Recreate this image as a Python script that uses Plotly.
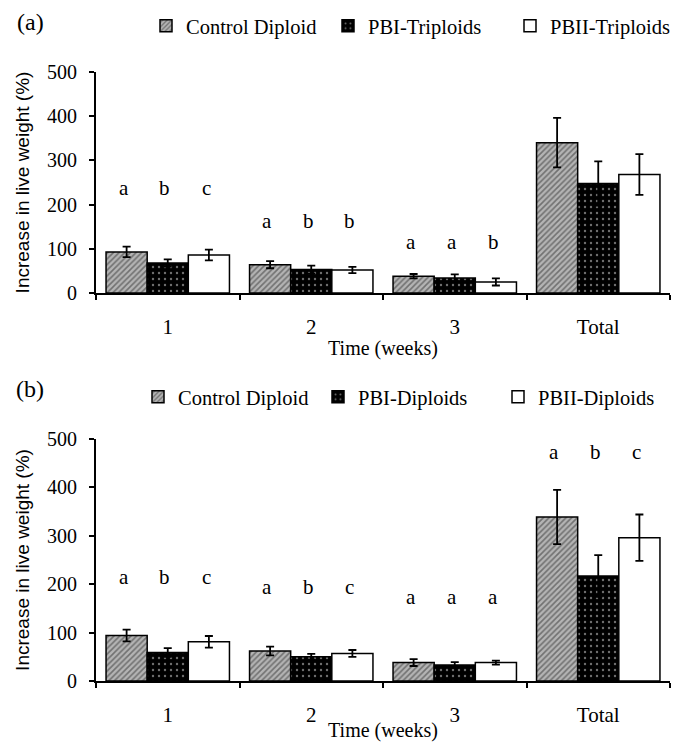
import plotly.graph_objects as go

categories = ["1", "2", "3", "Total"]

# Panel (a)
a_names = ["Control Diploid", "PBI-Triploids", "PBII-Triploids"]
a_control = [93, 64, 38, 340]
a_control_err = [12, 8, 5, 56]
a_pbi = [68, 53, 34, 248]
a_pbi_err = [8, 9, 8, 50]
a_pbii = [86, 52, 25, 268]
a_pbii_err = [12, 7, 8, 46]
a_letters = [["a", "b", "c"], ["a", "b", "b"], ["a", "a", "b"], ["a", "b", "c"]]
a_letter_y = [237, 164, 116, 504]

# Panel (b)
b_names = ["Control Diploid", "PBI-Diploids", "PBII-Diploids"]
b_control = [94, 62, 38, 339]
b_control_err = [12, 9, 7, 56]
b_pbi = [59, 50, 33, 217]
b_pbi_err = [9, 6, 6, 43]
b_pbii = [81, 57, 38, 296]
b_pbii_err = [12, 7, 4, 48]
b_letters = [["a", "b", "c"], ["a", "b", "c"], ["a", "a", "a"], ["a", "b", "c"]]
b_letter_y = [215, 194, 174, 473]

y_ticks = [0, 100, 200, 300, 400, 500]

# page has an 8px body margin; size the figure so it fills the 680x742 window
OFF = 8
W, H = 680 - OFF, 742 - OFF
SERIF = "Liberation Serif"
SANS = "Liberation Sans"
BARGAP = 0.14


def px(x):
    return (x - OFF) / W


def py(y):
    return 1 - (y - OFF) / H


styles = [
    dict(color="#b4b4b4", line=dict(color="black", width=1.5),
         pattern=dict(shape="/", fgcolor="#2e2e2e", bgcolor="#b4b4b4", size=4, solidity=0.4)),
    dict(color="black", line=dict(color="black", width=1.5),
         pattern=dict(shape=".", fgcolor="#dddddd", bgcolor="black", size=6, solidity=0.12)),
    dict(color="white", line=dict(color="black", width=1.5)),
]

fig = go.Figure()


def add_panel(names, vals, errs, xa, ya, legend):
    for i, (n, v, e) in enumerate(zip(names, vals, errs)):
        fig.add_trace(go.Bar(
            x=categories, y=v, name=n, marker=styles[i],
            error_y=dict(type="data", array=e, visible=True, color="black", thickness=1.8, width=4),
            xaxis=xa, yaxis=ya, legend=legend,
        ))


add_panel(a_names, [a_control, a_pbi, a_pbii], [a_control_err, a_pbi_err, a_pbii_err], "x", "y", "legend")
add_panel(b_names, [b_control, b_pbi, b_pbii], [b_control_err, b_pbi_err, b_pbii_err], "x2", "y2", "legend2")

bw = (1 - BARGAP) / 3
annotations = []
for letters, ly, xr, yr in [(a_letters, a_letter_y, "x", "y"), (b_letters, b_letter_y, "x2", "y2")]:
    for ci, group in enumerate(letters):
        for j, L in enumerate(group):
            annotations.append(dict(x=ci + (j - 1) * bw - 0.02, y=ly[ci], xref=xr, yref=yr, text=L,
                                    showarrow=False, xanchor="center", yanchor="middle",
                                    font=dict(family=SERIF, size=21, color="black")))

annotations.append(dict(x=px(30), y=py(22), xref="paper", yref="paper", text="(a)", showarrow=False,
                        xanchor="center", yanchor="middle", font=dict(family=SERIF, size=24, color="black")))
annotations.append(dict(x=px(30), y=py(389), xref="paper", yref="paper", text="(b)", showarrow=False,
                        xanchor="center", yanchor="middle", font=dict(family=SERIF, size=24, color="black")))

xdom = [px(96), px(670)]
xaxis_common = dict(type="category", range=[-0.5, 3.5], showline=True, linecolor="black", linewidth=2,
                    ticks="outside", tickson="boundaries", ticklen=5, tickwidth=2, tickcolor="black",
                    showgrid=False, zeroline=False, ticklabelstandoff=14, automargin=False,
                    tickfont=dict(family=SERIF, size=21, color="black"),
                    title=dict(text="Time (weeks)", font=dict(family=SERIF, size=20, color="black"), standoff=3),
                    domain=xdom)
yaxis_common = dict(range=[0, 500], tickvals=y_ticks, showline=True, linecolor="black", linewidth=2,
                    ticks="outside", ticklen=5, tickwidth=2, tickcolor="black", showgrid=False, zeroline=False,
                    automargin=False, ticklabelstandoff=8,
                    tickfont=dict(family=SERIF, size=20, color="black"),
                    title=dict(text="Increase in live weight (%)", font=dict(family=SANS, size=19, color="black"),
                               standoff=12))

legend_common = dict(orientation="h", xanchor="left", yanchor="middle",
                     font=dict(family=SERIF, size=20.5, color="black"), bgcolor="rgba(0,0,0,0)",
                     traceorder="normal", itemclick=False)

fig.update_layout(
    width=W, height=H, margin=dict(l=0, r=0, t=0, b=0, autoexpand=False),
    paper_bgcolor="white", plot_bgcolor="white",
    barmode="group", bargap=BARGAP, bargroupgap=0,
    xaxis=dict(xaxis_common, anchor="y"),
    yaxis=dict(yaxis_common, domain=[py(293), py(72)], anchor="x"),
    xaxis2=dict(xaxis_common, anchor="y2"),
    yaxis2=dict(yaxis_common, domain=[py(681), py(439)], anchor="x2"),
    legend=dict(legend_common, x=px(160 - 14), y=py(26), entrywidth=137),
    legend2=dict(legend_common, x=px(152 - 14), y=py(397), entrywidth=135),
    annotations=annotations,
    showlegend=True,
)

fig.write_html("out.html")
